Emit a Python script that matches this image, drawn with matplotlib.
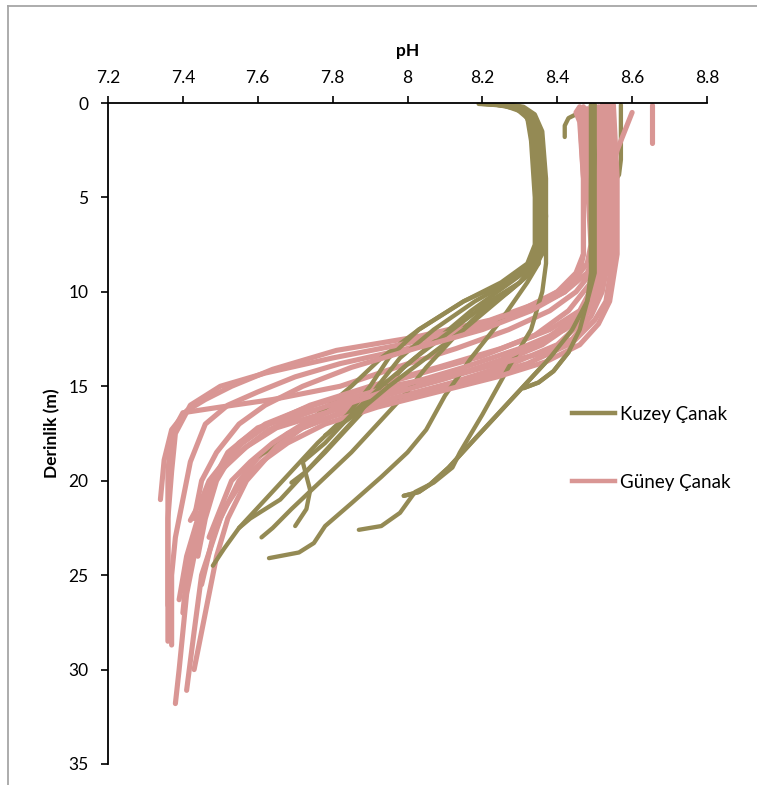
import matplotlib.pyplot as plt
from matplotlib.lines import Line2D

plt.rcParams['font.family'] = ['Lato', 'DejaVu Sans']

# pH ticks on the top axis, depth ticks on the left
x_ticks = [7.2, 7.4, 7.6, 7.8, 8.0, 8.2, 8.4, 8.6, 8.8]
x_labels = ['7.2', '7.4', '7.6', '7.8', '8', '8.2', '8.4', '8.6', '8.8']
y_ticks = [0, 5, 10, 15, 20, 25, 30, 35]

# Kuzey Canak profiles (depth m, pH)
kuzey_depth = [
    [0.1, 3, 6, 9, 10.5, 12, 13.2, 14.2, 14.8, 15.1],
    [0.1, 3, 6, 9, 10.5, 12, 13.5, 15, 16.5, 18, 19.3, 20.2, 20.6, 20.8],
    [0.1, 1, 2, 3, 3.8, 4.1],
    [1.8, 1.2, 0.8, 0.6],
    [0.05, 0.1, 0.3, 0.8, 2, 5, 7.5, 8.5, 9.5, 10.5, 12, 13.5, 15, 16.5, 17.8, 18.7],
    [0.05, 0.15, 0.4, 1, 3, 6, 8, 9, 10, 11, 12.5, 14, 15.5, 17, 18.5, 19.5, 20.1],
    [0.05, 0.2, 0.5, 1.2, 3, 6, 8, 9, 10, 11, 12.5, 14, 15.5, 17, 18.5, 20, 21.5, 22.5, 23],
    [0.05, 0.2, 0.6, 1.5, 4, 7, 8.5, 9.5, 11.5, 13.5, 15.5, 17.3, 18.5, 19.8, 21.2, 22.4, 23.3, 23.8, 24.1],
    [0.05, 0.2, 0.6, 1.5, 4, 7, 8.5, 10, 12, 14, 16.5, 18.5, 19.3, 20.1, 20.6, 21.7, 22.4, 22.6],
    [0.05, 0.15, 0.5, 1.2, 3, 6, 8, 8.5, 9.5, 10.5, 12, 13.5, 15, 16.5, 18, 19.5, 21, 22.5, 23.6, 24.5],
    [0.05, 0.2, 0.5, 1.5, 4, 7, 8.5, 9.5, 10.5, 12, 13.5, 15, 16.5, 18, 19.5, 21, 22, 22.5],
    [0.05, 0.2, 0.6, 1.5, 4, 7, 8.5, 9.5, 10.5, 12, 13.5, 15, 16.5, 18, 19, 20.5, 21.5, 22.4],
    [0.05, 0.2, 0.6, 1.5, 4, 7, 8.5, 9.5, 10.5, 12, 13.5, 15, 16.5, 17.6],
]
kuzey_ph = [
    [8.49, 8.49, 8.49, 8.49, 8.48, 8.46, 8.43, 8.39, 8.35, 8.31],
    [8.50, 8.50, 8.50, 8.50, 8.48, 8.44, 8.38, 8.31, 8.24, 8.17, 8.11, 8.06, 8.03, 7.99],
    [8.57, 8.57, 8.57, 8.57, 8.565, 8.555],
    [8.42, 8.42, 8.43, 8.45],
    [8.19, 8.24, 8.29, 8.32, 8.33, 8.34, 8.34, 8.32, 8.25, 8.15, 8.03, 7.93, 7.85, 7.76, 7.68, 7.60],
    [8.21, 8.27, 8.31, 8.34, 8.35, 8.36, 8.35, 8.31, 8.24, 8.17, 8.08, 7.99, 7.92, 7.85, 7.78, 7.73, 7.69],
    [8.22, 8.28, 8.32, 8.35, 8.36, 8.37, 8.36, 8.33, 8.27, 8.20, 8.12, 8.05, 7.99, 7.92, 7.85, 7.77, 7.69, 7.64, 7.61],
    [8.24, 8.29, 8.33, 8.35, 8.36, 8.36, 8.35, 8.32, 8.25, 8.17, 8.10, 8.05, 8.00, 7.93, 7.85, 7.78, 7.75, 7.71, 7.63],
    [8.26, 8.31, 8.34, 8.36, 8.37, 8.37, 8.37, 8.36, 8.33, 8.27, 8.20, 8.14, 8.12, 8.07, 8.02, 7.98, 7.93, 7.87],
    [8.20, 8.26, 8.31, 8.33, 8.34, 8.35, 8.34, 8.33, 8.26, 8.15, 8.03, 7.95, 7.90, 7.84, 7.76, 7.69, 7.62, 7.55, 7.51, 7.48],
    [8.23, 8.29, 8.32, 8.34, 8.35, 8.35, 8.33, 8.27, 8.18, 8.07, 7.98, 7.92, 7.87, 7.80, 7.73, 7.66, 7.58, 7.55],
    [8.25, 8.30, 8.33, 8.35, 8.36, 8.36, 8.34, 8.30, 8.22, 8.12, 8.02, 7.93, 7.85, 7.78, 7.72, 7.74, 7.73, 7.70],
    [8.24, 8.30, 8.33, 8.35, 8.36, 8.36, 8.35, 8.30, 8.24, 8.15, 8.05, 7.95, 7.86, 7.78],
]

# Guney Canak profiles (depth m, pH)
guney_depth = [
    [0.3, 4, 7.5, 8.5, 9.5, 10.5, 11.5, 12.4, 13.1, 14.1, 15.0, 15.7, 16.3, 17.3, 18.9, 21.0],
    [0.2, 4, 8, 9, 10, 11, 12, 13, 14, 15, 15.7, 16.1, 16.4, 17.5, 19.5, 22, 24.5, 26.6],
    [0.1, 4, 8, 9.5, 10.5, 11.7, 12.8, 13.8, 14.7, 15.6, 16.4, 17.2, 18.5, 20, 22, 24, 26, 28, 30, 31.8],
    [0.3, 4, 8, 10, 11.5, 12.8, 13.8, 14.8, 15.7, 16.6, 17.5, 18.8, 20, 22, 25, 28, 31.1],
    [0.2, 4, 8, 9, 10, 11, 12, 13, 13.8, 14.5, 15.3, 16, 17, 19, 21, 23, 25, 27, 28.7],
    [0.2, 4, 8, 9.5, 11, 12.3, 13.4, 14.4, 15.3, 16.2, 17, 18, 20, 22, 24, 26.3],
    [0.3, 4, 8, 9.5, 11, 12, 13, 14, 15, 16, 17, 18, 19, 20, 21, 22.1],
    [0.1, 4, 8, 10.5, 11.5, 12.7, 13.8, 14.8, 15.6, 16.4, 17.2, 18.2, 20, 22, 24, 26, 28, 30],
    [0.4, 4, 8, 9, 10, 11, 12, 12.8, 13.5, 14.3, 15, 16, 17.5, 19.5, 22, 25, 28.5],
    [0.2, 4, 8, 10, 11.3, 12.5, 13.6, 14.6, 15.5, 16.4, 17.2, 18.2, 19.5, 21, 23, 25, 27],
    [0.1, 4, 8, 10.5, 11.7, 12.8, 13.7, 14.5, 15.3, 16.1, 17, 18, 19, 20, 21.5, 23, 25.5],
    [0.0, 4, 8, 10, 11.3, 12.5, 13.3, 14.2, 14.9, 15.6, 16.5, 17.3, 18.2, 19, 20, 22, 24],
    [0.5, 1.5, 2.5, 4, 6, 8, 10, 11, 12, 13, 14, 15, 16, 17, 18, 19, 20, 21.5, 23],
    [0.1, 2.1],
    [0.2, 0.5, 1, 4, 8, 9, 10, 11, 12, 13, 14, 15, 16, 17, 18.5, 20, 22],
]
guney_ph = [
    [8.47, 8.48, 8.49, 8.48, 8.44, 8.36, 8.22, 8.02, 7.81, 7.64, 7.53, 7.46, 7.41, 7.37, 7.35, 7.34],
    [8.50, 8.51, 8.51, 8.49, 8.45, 8.38, 8.27, 8.13, 7.97, 7.82, 7.64, 7.50, 7.40, 7.37, 7.36, 7.36, 7.36, 7.36],
    [8.52, 8.53, 8.53, 8.52, 8.49, 8.44, 8.36, 8.24, 8.08, 7.90, 7.72, 7.60, 7.52, 7.48, 7.45, 7.43, 7.41, 7.40, 7.39, 7.38],
    [8.50, 8.52, 8.52, 8.51, 8.47, 8.40, 8.28, 8.12, 7.95, 7.80, 7.68, 7.60, 7.55, 7.50, 7.45, 7.43, 7.41],
    [8.49, 8.50, 8.50, 8.48, 8.42, 8.32, 8.18, 8.00, 7.82, 7.70, 7.60, 7.52, 7.46, 7.42, 7.40, 7.38, 7.37, 7.37, 7.37],
    [8.47, 8.49, 8.50, 8.49, 8.43, 8.34, 8.20, 8.02, 7.86, 7.72, 7.62, 7.55, 7.48, 7.44, 7.41, 7.39],
    [8.48, 8.50, 8.51, 8.50, 8.46, 8.38, 8.25, 8.08, 7.90, 7.74, 7.63, 7.56, 7.51, 7.47, 7.45, 7.42],
    [8.54, 8.55, 8.55, 8.53, 8.50, 8.44, 8.32, 8.15, 7.97, 7.82, 7.72, 7.65, 7.57, 7.52, 7.49, 7.47, 7.45, 7.43],
    [8.46, 8.47, 8.47, 8.45, 8.40, 8.30, 8.15, 7.98, 7.80, 7.62, 7.50, 7.42, 7.38, 7.37, 7.36, 7.36, 7.36],
    [8.51, 8.52, 8.52, 8.50, 8.45, 8.37, 8.25, 8.10, 7.94, 7.78, 7.65, 7.57, 7.50, 7.46, 7.43, 7.41, 7.40],
    [8.55, 8.56, 8.56, 8.54, 8.51, 8.46, 8.37, 8.24, 8.08, 7.92, 7.78, 7.68, 7.61, 7.56, 7.51, 7.48, 7.45],
    [8.53, 8.54, 8.54, 8.52, 8.49, 8.44, 8.35, 8.16, 7.98, 7.85, 7.72, 7.63, 7.57, 7.52, 7.49, 7.46, 7.44],
    [8.60, 8.58, 8.56, 8.54, 8.53, 8.52, 8.51, 8.48, 8.42, 8.30, 8.15, 7.98, 7.83, 7.72, 7.64, 7.58, 7.53, 7.50, 7.47],
    [8.653, 8.653],
    [8.46, 8.45, 8.46, 8.47, 8.47, 8.46, 8.42, 8.33, 8.20, 8.02, 7.85, 7.72, 7.62, 7.55, 7.49, 7.45, 7.43],
]

olive = '#948A54'
pink = '#D99694'

fig = plt.figure(figsize=(7.57, 7.85), dpi=100)
ax = fig.add_axes([108 / 757, 21 / 785, 599 / 757, 661 / 785])

# series alternate between the two basins so they overlap each other
n = max(len(kuzey_ph), len(guney_ph))
for i in range(n):
    if i < len(guney_ph):
        ax.plot(guney_ph[i], guney_depth[i], color=pink, lw=3.7,
                solid_capstyle='round', solid_joinstyle='round')
    if i < len(kuzey_ph):
        ax.plot(kuzey_ph[i], kuzey_depth[i], color=olive, lw=3.1,
                solid_capstyle='round', solid_joinstyle='round')
# the two 8.5 olive profiles sit on top of the pink bundle
for d, p in zip(kuzey_depth[:2], kuzey_ph[:2]):
    ax.plot(p, d, color=olive, lw=3.1, solid_capstyle='round', solid_joinstyle='round')

ax.set_xlim(7.2, 8.8)
ax.set_ylim(35, 0)
ax.xaxis.tick_top()
ax.xaxis.set_label_position('top')
ax.set_xticks(x_ticks)
ax.set_xticklabels(x_labels)
ax.set_yticks(y_ticks)
ax.spines['right'].set_visible(False)
ax.spines['bottom'].set_visible(False)
ax.spines['top'].set_linewidth(1.3)
ax.spines['left'].set_linewidth(1.3)
ax.tick_params(axis='x', direction='out', length=5, width=1.2, labelsize=12.5, pad=7)
ax.tick_params(axis='y', direction='out', length=5, width=1.2, labelsize=12.5, pad=9)
ax.set_xlabel('pH', fontweight='bold', fontsize=12.5, labelpad=10)
ax.set_ylabel('Derinlik (m)', fontweight='bold', fontsize=12.5, labelpad=6)

handles = [Line2D([], [], color=olive, lw=3.2), Line2D([], [], color=pink, lw=3.2)]
fig.legend(handles, ['Kuzey Çanak', 'Güney Çanak'], loc='upper left',
           bbox_to_anchor=(572 / 757, 1 - 406 / 785), frameon=False, fontsize=13.5,
           handlelength=2.3, handletextpad=0.25, labelspacing=2.7, borderpad=0,
           borderaxespad=0)

# outer chart border (only left and top edges are inside the image)
fig.add_artist(Line2D([8 / 757, 8 / 757], [0, 1 - 6 / 785], transform=fig.transFigure,
                      color='#A6A6A6', lw=1.3))
fig.add_artist(Line2D([8 / 757, 1], [1 - 6 / 785, 1 - 6 / 785], transform=fig.transFigure,
                      color='#A6A6A6', lw=1.3))

fig.savefig('out.png', dpi=100)
